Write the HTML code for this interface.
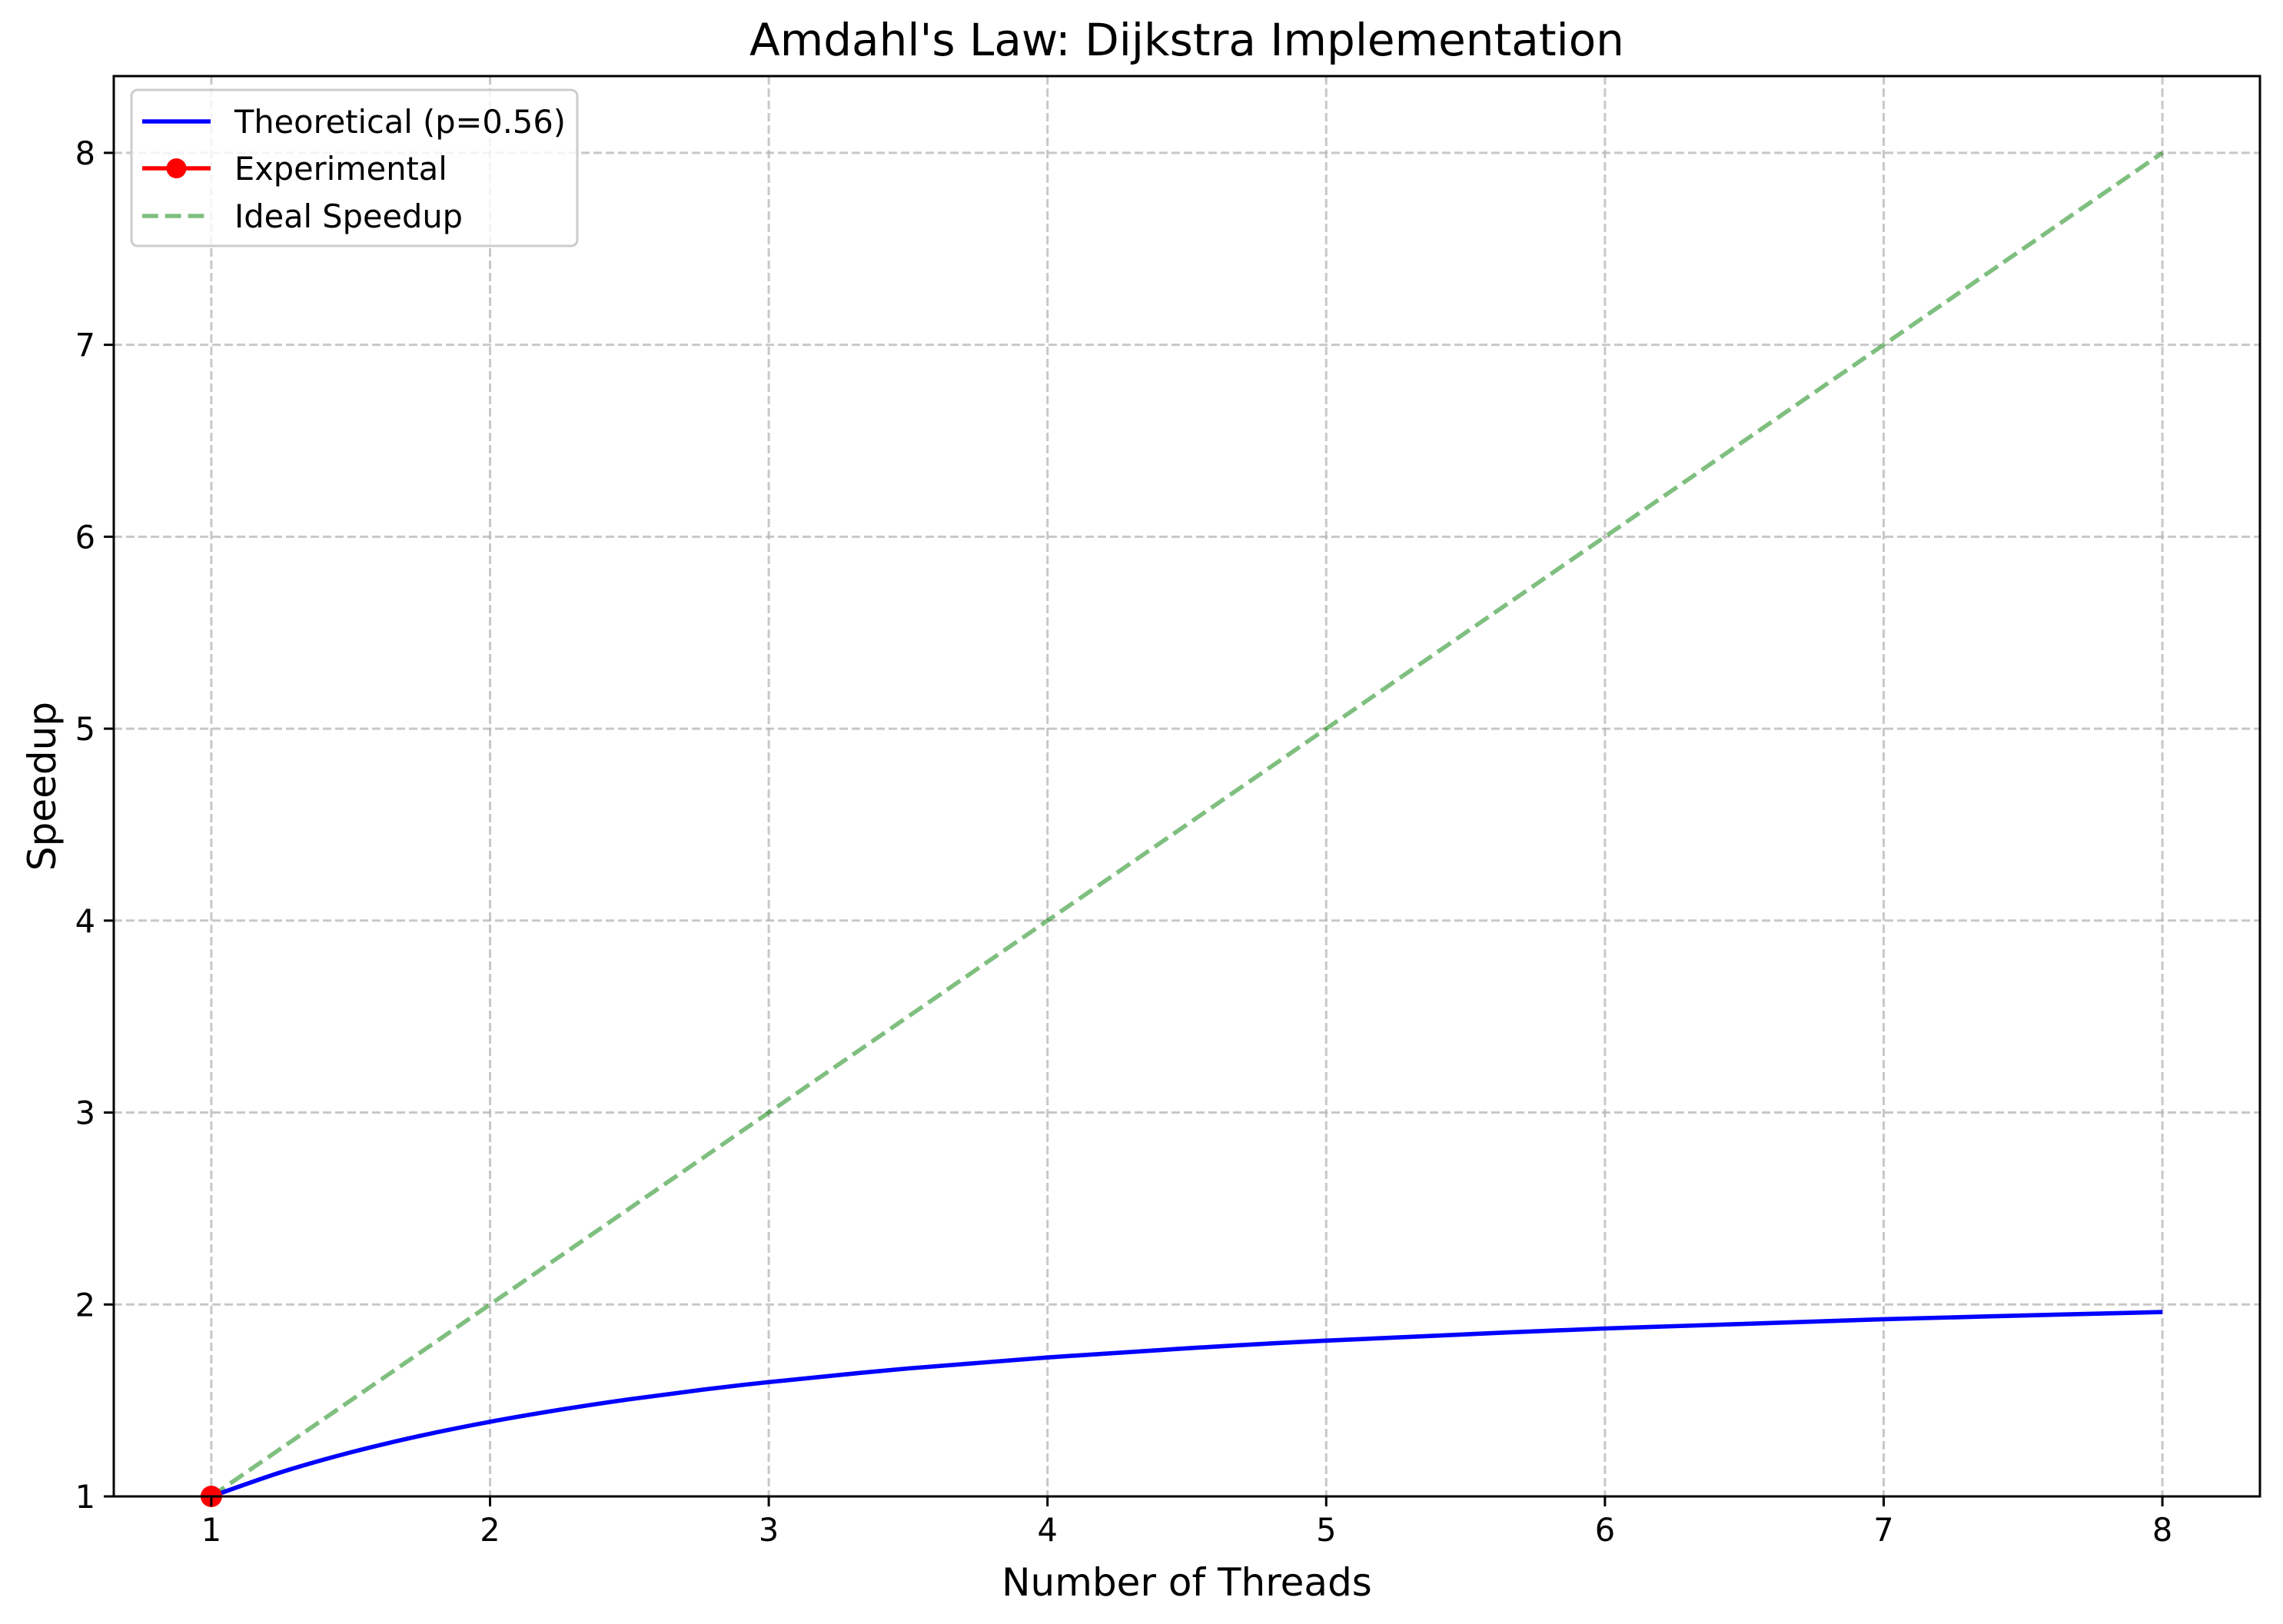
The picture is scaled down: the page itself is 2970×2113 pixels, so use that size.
<!DOCTYPE html>
<html><head><meta charset="utf-8"><style>
html,body{margin:0;padding:0;background:#fff;}
svg{display:block;font-family:"DejaVu Sans","Liberation Sans",sans-serif;}
</style></head><body>
<svg id="chart" width="2970" height="2113" viewBox="0 0 2970 2113">
<rect x="0" y="0" width="2970" height="2113" fill="#fff"/>
<g id="grid"></g>
<g id="series"></g>
<rect x="148" y="99" width="2792" height="1848" fill="none" stroke="#000" stroke-width="3"/>
<g id="ticks"></g>
<text x="1544" y="72" font-size="58" text-anchor="middle">Amdahl's Law: Dijkstra Implementation</text>
<text x="1544" y="2076" font-size="50" text-anchor="middle">Number of Threads</text>
<text x="0" y="0" font-size="50" text-anchor="middle" transform="translate(72,1023) rotate(-90)">Speedup</text>
<g>
<rect x="171" y="117" width="580" height="203" rx="8" fill="#fff" fill-opacity="0.8" stroke="#ccc" stroke-width="3"/>
<g>
<line x1="185" y1="158" x2="274" y2="158" stroke="#0000ff" stroke-width="5.6"/>
<text x="305" y="173" font-size="41.5">Theoretical (p=0.56)</text>
</g>
<g>
<line x1="185" y1="219" x2="274" y2="219" stroke="#ff0000" stroke-width="5.6"/>
<circle cx="229.5" cy="219" r="13" fill="#ff0000"/>
<text x="305" y="234" font-size="41.5">Experimental</text>
</g>
<g>
<line x1="185" y1="281" x2="274" y2="281" stroke="#008000" stroke-opacity="0.5" stroke-width="5.6" stroke-dasharray="20.8,9"/>
<text x="305" y="296" font-size="41.5">Ideal Speedup</text>
</g>
</g>
</svg>
<script>
const xTicks = [1,2,3,4,5,6,7,8];
const yTicks = [1,2,3,4,5,6,7,8];
const theoN = [1,1.25,1.5,1.75,2,2.25,2.5,2.75,3,3.5,4,4.5,5,6,7,8];
const theoS = [1,1.126,1.2295,1.3158,1.3889,1.4514,1.506,1.5537,1.5957,1.6667,1.7241,1.7717,1.8116,1.875,1.9231,1.9608];
const expN = [1];
const expS = [1];
const idealN = [1,2,3,4,5,6,7,8];
const idealS = [1,2,3,4,5,6,7,8];

const X0=148, X1=2940, Y0=1947, Y1=99;
const xMin=0.65, xMax=8.35, yMin=1, yMax=8.4;
function sx(v){return X0+(v-xMin)/(xMax-xMin)*(X1-X0);}
function sy(v){return Y0-(v-yMin)/(yMax-yMin)*(Y0-Y1);}
const NS='http://www.w3.org/2000/svg';
function mk(tag,attrs,parent){const e=document.createElementNS(NS,tag);for(const k in attrs)e.setAttribute(k,attrs[k]);parent.appendChild(e);return e;}
const grid=document.getElementById('grid'), ticks=document.getElementById('ticks'), series=document.getElementById('series');
xTicks.forEach(t=>{
  const g=mk('line',{x1:sx(t),x2:sx(t),y1:Y1,y2:Y0,stroke:'#b0b0b0','stroke-opacity':0.7,'stroke-width':3,'stroke-dasharray':'11,5'},grid);
  
  
  const tk=mk('line',{x1:sx(t),x2:sx(t),y1:Y0,y2:Y0+13,stroke:'#000','stroke-width':3},ticks);
  
  
  const lb=mk('text',{x:sx(t),y:Y0+58,'font-size':41.5,'text-anchor':'middle'},ticks);
  lb.textContent=t;
  
  
});
yTicks.forEach(t=>{
  const g=mk('line',{x1:X0,x2:X1,y1:sy(t),y2:sy(t),stroke:'#b0b0b0','stroke-opacity':0.7,'stroke-width':3,'stroke-dasharray':'11,5'},grid);
  
  
  const tk=mk('line',{x1:X0-13,x2:X0,y1:sy(t),y2:sy(t),stroke:'#000','stroke-width':3},ticks);
  
  
  const lb=mk('text',{x:X0-24,y:sy(t)+15,'font-size':41.5,'text-anchor':'end'},ticks);
  lb.textContent=t;
  
  
});
const ideal=mk('polyline',{points:idealN.map((n,i)=>sx(n)+','+sy(idealS[i])).join(' '),fill:'none',stroke:'#008000','stroke-opacity':0.5,'stroke-width':5.6,'stroke-dasharray':'20.8,9'},series);


const pts=theoN.map((n,i)=>[sx(n),sy(theoS[i])]);
let d='M'+pts[0][0]+','+pts[0][1];
for(let i=0;i<pts.length-1;i++){
  const p0=pts[Math.max(0,i-1)],p1=pts[i],p2=pts[i+1],p3=pts[Math.min(pts.length-1,i+2)];
  const c1=[p1[0]+(p2[0]-p0[0])/6,p1[1]+(p2[1]-p0[1])/6];
  const c2=[p2[0]-(p3[0]-p1[0])/6,p2[1]-(p3[1]-p1[1])/6];
  d+=' C'+c1[0]+','+c1[1]+' '+c2[0]+','+c2[1]+' '+p2[0]+','+p2[1];
}
const theo=mk('path',{d:d,fill:'none',stroke:'#0000ff','stroke-width':5.6},series);


expN.forEach((n,i)=>{
  const c=mk('circle',{cx:sx(n),cy:sy(expS[i]),r:14,fill:'#ff0000'},series);
  
  
});
</script>
</body></html>
